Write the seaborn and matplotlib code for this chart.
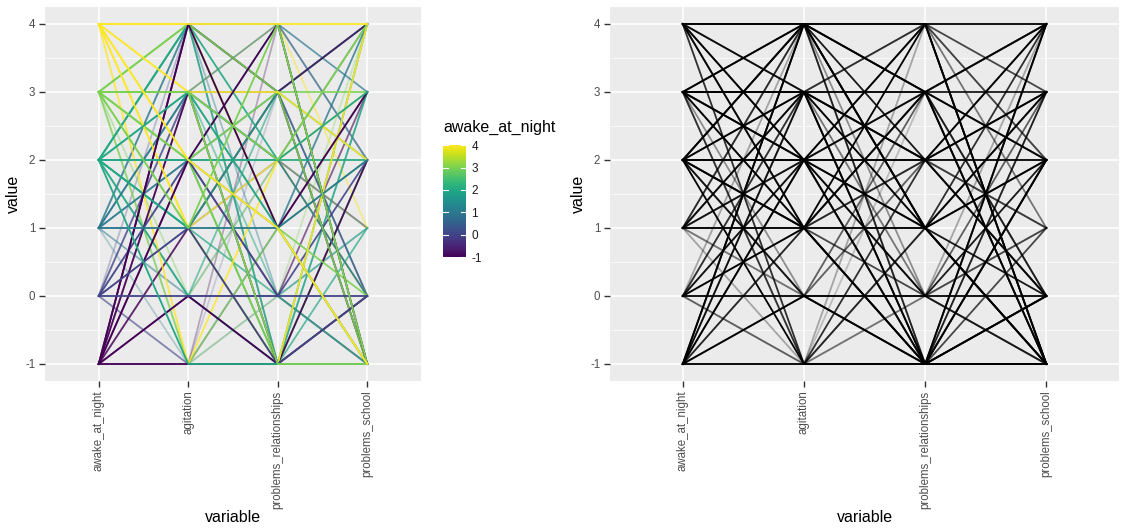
import numpy as np
import pandas as pd
import seaborn as sns
import matplotlib as mpl
from matplotlib import pyplot as plt

variables = ['awake_at_night', 'agitation', 'problems_relationships', 'problems_school']

# one entry per respondent
awake_at_night = [4, 4, 4, 4, 4, 4, 3, 3, 3, 3, 3, 3, 3, 2, 2, 2, 2, 2, 2, 2, 2, 1, 1, 1,
                  1, 1, 1, 1, 0, 0, 0, 0, 0, 0, 0, -1, -1, -1, -1, -1, -1, -1, -1, -1, 2, 3,
                  4, 1, 2, 0, -1, 3, 2, 1, 4, 0, -1, 3, 2, 1, 3, 2, 4, 0, -1, 1, 2, 3]
agitation = [4, 3, 2, 1, -1, 3, 4, 3, 2, 1, -1, 0, 3, 4, 3, 2, 1, 0, -1, 1, 2, 4, 3, 2,
             1, 0, 3, -1, 4, 3, 2, 1, 0, -1, 1, 4, 3, 2, 1, 0, -1, 2, 3, 0, 4, 2,
             1, 2, 1, 3, 1, 4, 3, 4, 2, -1, -1, 1, 0, 1, -1, 2, 4, 2, 4, 0, 4, 2]
problems_relationships = [4, 3, 1, -1, 2, 4, 3, 2, -1, 4, 1, 2, -1, 2, 1, 2, -1, 3, -1, 3, 4, 0, 2, 1,
                          1, -1, 4, 0, -1, 3, 0, -1, 0, 1, 2, 1, -1, 4, 3, -1, -1, 0, 2, 0, -1, 3,
                          2, 3, 0, 1, 2, 1, 0, 4, -1, 3, 4, 1, -1, 3, 0, -1, 1, 2, 3, 2, 3, 2]
problems_school = [4, 2, -1, 4, 3, 1, 3, 4, 0, -1, 2, 1, -1, 2, -1, 3, 4, 0, -1, 2, -1, 1, 0, 4,
                   2, 3, 2, -1, -1, 0, 2, 0, 0, -1, 1, 3, 2, -1, 4, 0, -1, 3, 1, -1, 3, -1,
                   0, 4, -1, 3, 4, 0, 1, 3, 2, 4, 2, 3, 2, -1, 4, 1, -1, 4, -1, 0, 4, 2]
line_alpha = [1.0, 0.9, 1.0, 0.9, 0.8, 0.5, 0.9, 1.0, 0.8, 1.0, 0.7, 0.4, 1.0, 0.9, 1.0, 1.0, 0.9, 0.6, 1.0, 0.8, 0.5, 0.4, 0.9, 0.8,
              1.0, 0.3, 0.6, 0.3, 0.3, 0.7, 0.9, 1.0, 1.0, 0.5, 0.3, 1.0, 0.9, 1.0, 0.8, 1.0, 1.0, 0.6, 0.4, 0.5, 0.8, 0.9,
              0.7, 0.6, 0.7, 0.3, 0.2, 0.9, 0.5, 0.7, 0.6, 0.2, 0.3, 0.4, 0.8, 0.4, 0.3, 0.7, 0.8, 0.3, 0.9, 0.3, 0.6, 0.5]

df = pd.DataFrame({'awake_at_night': awake_at_night, 'agitation': agitation,
                   'problems_relationships': problems_relationships,
                   'problems_school': problems_school, 'alpha': line_alpha})
df['id'] = range(len(df))
df['colour'] = df['awake_at_night']
long_df = df.melt(id_vars=['id', 'alpha', 'colour'], value_vars=variables,
                  var_name='variable', value_name='value')

plt.rcParams['font.family'] = ['Liberation Sans', 'DejaVu Sans']
plt.rcParams['axes.unicode_minus'] = False
fig = plt.figure(figsize=(11.22, 5.29), dpi=100)
ax1 = fig.add_axes([0.0401, 0.2798, 0.3351, 0.707])
ax2 = fig.add_axes([0.5437, 0.2798, 0.4537, 0.707])

for a, sub in long_df.groupby('alpha'):
    sns.lineplot(data=sub, x='variable', y='value', hue='colour', palette='viridis',
                 hue_norm=(-1, 4), units='id', estimator=None, alpha=a, lw=1.3,
                 legend=False, ax=ax1)
    sns.lineplot(data=sub, x='variable', y='value', color='black', units='id',
                 estimator=None, alpha=a, lw=1.3, legend=False, ax=ax2)

for ax in (ax1, ax2):
    ax.set_facecolor('#EBEBEB')
    for s in ax.spines.values():
        s.set_visible(False)
    ax.set_xlim(-0.6, 3.6)
    ax.set_ylim(-1.25, 4.25)
    ax.set_yticks(range(-1, 5))
    ax.set_yticks(np.arange(-0.5, 4, 1), minor=True)
    ax.grid(which='major', color='white', lw=1.1)
    ax.grid(which='minor', axis='y', color='white', lw=0.5)
    ax.set_axisbelow(True)
    ax.tick_params(which='major', color='#333333', length=4, width=1, labelcolor='#4D4D4D',
                   labelsize=8.3, pad=3)
    ax.tick_params(which='minor', length=0)
    ax.set_xticks(range(4))
    ax.set_xticklabels(variables, rotation=90, ha='center', va='top')
    ax.set_xlabel('variable', fontsize=11.5)
    ax.xaxis.set_label_coords(0.5, -0.345)
    ax.set_ylabel('value', fontsize=11.5, labelpad=3)

# colour bar legend
cax = fig.add_axes([0.3948, 0.514, 0.0205, 0.2117])
sm = mpl.cm.ScalarMappable(norm=mpl.colors.Normalize(-1, 4), cmap='viridis')
cb = fig.colorbar(sm, cax=cax)
cb.outline.set_visible(False)
cb.set_ticks(range(-1, 5))
cax.tick_params(length=0, labelsize=8.5, labelcolor='#1A1A1A', pad=4)
for t in range(-1, 5):
    cax.plot([0, 0.2], [t, t], color='white', lw=0.8, transform=cax.get_yaxis_transform())
    cax.plot([0.8, 1], [t, t], color='white', lw=0.8, transform=cax.get_yaxis_transform())
fig.text(0.3948, 0.745, 'awake_at_night', fontsize=11.5, ha='left', va='bottom')

fig.savefig('out.png', dpi=100)
